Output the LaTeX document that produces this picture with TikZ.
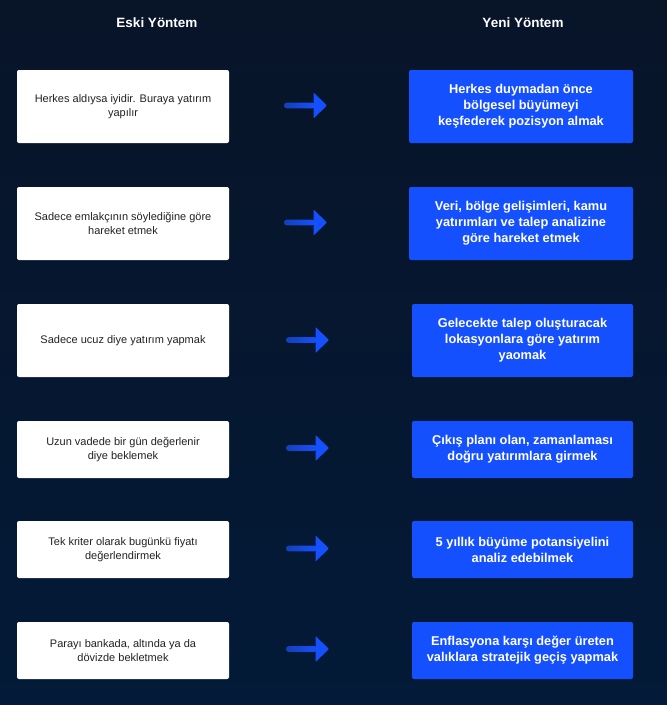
\documentclass[tikz,border=0pt]{standalone}
\usepackage{fontspec}
\setmainfont{Liberation Sans}
\usetikzlibrary{calc}
\definecolor{bgtop}{HTML}{081428}
\definecolor{bgbot}{HTML}{031A38}
\definecolor{bluebox}{HTML}{1550FF}
\definecolor{arrowdark}{HTML}{1440B8}
\definecolor{oldtext}{HTML}{222222}
\begin{document}
\begin{tikzpicture}[x=1pt,y=-1pt,
  oldbox/.style={fill=white, rounded corners=2pt, inner sep=0pt, minimum width=212pt, align=center,
    font=\fontsize{11}{14}\selectfont, text=oldtext},
  newbox/.style={fill=bluebox, rounded corners=2pt, inner sep=0pt, align=center,
    font=\fontsize{12.8}{16}\selectfont\bfseries, text=white},
  title/.style={font=\fontsize{13.5}{16}\selectfont\bfseries, text=white},
  arrowshaft/.style={left color=arrowdark, right color=bluebox, rounded corners=2.8pt},
  arrowhead/.style={fill=bluebox, rounded corners=0.8pt}]
\shade[top color=bgtop, bottom color=bgbot] (0,0) rectangle (667,705);
\useasboundingbox (0,0) rectangle (667,705);

\node[title] (t1) at (157,23) {Eski Yöntem};
\node[title] (t2) at (523,23) {Yeni Yöntem};

% old method boxes
\node[oldbox, minimum height=73pt] (o1) at (123,106.5) {Herkes aldıysa iyidir. Buraya yatırım\\yapılır};
\node[oldbox, minimum height=73pt] (o2) at (123,223.5) {Sadece emlakçının söylediğine göre\\hareket etmek};
\node[oldbox, minimum height=73pt] (o3) at (123,340.5) {Sadece ucuz diye yatırım yapmak};
\node[oldbox, minimum height=57pt] (o4) at (123,449.5) {Uzun vadede bir gün değerlenir\\diye beklemek};
\node[oldbox, minimum height=57pt] (o5) at (123,549.5) {Tek kriter olarak bugünkü fiyatı\\değerlendirmek};
\node[oldbox, minimum height=57pt] (o6) at (123,650.5) {Parayı bankada, altında ya da\\dövizde bekletmek};

% new method boxes
\node[newbox, minimum width=224pt, minimum height=73pt] (n1) at (521,106.5) {Herkes duymadan önce\\bölgesel büyümeyi\\keşfederek pozisyon almak};
\node[newbox, minimum width=224pt, minimum height=73pt] (n2) at (521,223.5) {Veri, bölge gelişimleri, kamu\\yatırımları ve talep analizine\\göre hareket etmek};
\node[newbox, minimum width=221pt, minimum height=73pt] (n3) at (522.5,340.5) {Gelecekte talep oluşturacak\\lokasyonlara göre yatırım\\yaomak};
\node[newbox, minimum width=221pt, minimum height=57pt] (n4) at (522.5,449.5) {Çıkış planı olan, zamanlaması\\doğru yatırımlara girmek};
\node[newbox, minimum width=221pt, minimum height=57pt] (n5) at (522.5,549.5) {5 yıllık büyüme potansiyelini\\analiz edebilmek};
\node[newbox, minimum width=221pt, minimum height=57pt] (n6) at (522.5,650.5) {Enflasyona karşı değer üreten\\valıklara stratejik geçiş yapmak};

% arrows
\foreach \n/\x/\y in {1/284/105.5, 2/284/222.5, 3/286/340, 4/286/448, 5/286/548.5, 6/286/649}{
  \coordinate (a\n s) at (\x,\y);
  \coordinate (a\n e) at ($(\x,\y)+(43,0)$);
  \shade[arrowshaft] ($(a\n s)+(0,-2.9)$) rectangle ($(a\n s)+(31,2.9)$);
  \fill[arrowhead] (a\n e) -- ($(a\n e)+(-13.5,-13)$) -- ($(a\n e)+(-13.5,13)$) -- cycle;
}
\end{tikzpicture}
\end{document}
